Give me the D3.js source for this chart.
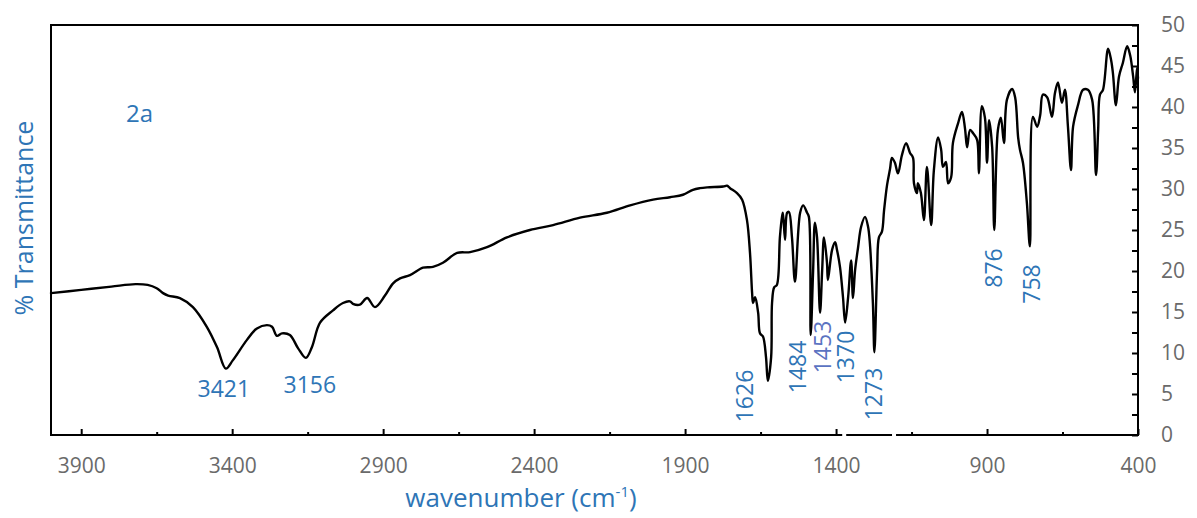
<!DOCTYPE html>
<html>
<head>
<meta charset="utf-8">
<script src="https://cdn.jsdelivr.net/npm/d3@7"></script>
<style>
  html, body { margin: 0; padding: 0; background: #fff; }
  svg { display: block; }
  text { font-family: "Open Sans", "Noto Sans", sans-serif; }
</style>
</head>
<body>
<svg id="chart" width="1197" height="518"></svg>
<script>
// ---- data ----
const wavenumbers = [
  4000, 3900, 3800, 3720, 3680, 3650, 3629, 3612, 3573, 3530, 3484, 3450, 3421, 3398, 3351, 3318, 3285, 3268, 3252, 3235,
  3209, 3182, 3156, 3136, 3109, 3066, 3033, 3010, 3000, 2977, 2953, 2927, 2894, 2867, 2844, 2811, 2768, 2735, 2702, 2655,
  2612, 2556, 2490, 2414, 2337, 2248, 2159, 2082, 2006, 1950, 1907, 1874, 1851, 1827, 1774, 1761, 1751, 1728, 1711, 1695,
  1685, 1678, 1675, 1668, 1658, 1652, 1642, 1632, 1626, 1615, 1612, 1605, 1596, 1586, 1579, 1576, 1569, 1562, 1556, 1546,
  1536, 1519, 1509, 1496, 1490, 1484, 1476, 1470, 1463, 1453, 1446, 1440, 1430, 1427, 1413, 1403, 1397, 1387, 1377, 1370,
  1360, 1350, 1344, 1337, 1327, 1317, 1304, 1294, 1288, 1278, 1273, 1264, 1258, 1248, 1241, 1231, 1221, 1215, 1205, 1195,
  1182, 1168, 1155, 1145, 1142, 1132, 1129, 1119, 1109, 1099, 1085, 1076, 1062, 1052, 1046, 1036, 1029, 1019, 1013, 996,
  983, 973, 966, 956, 946, 933, 927, 917, 907, 900, 893, 883, 876, 864, 854, 844, 834, 817, 807, 797,
  791, 781, 768, 758, 748, 734, 724, 715, 701, 685, 675, 665, 652, 642, 632, 622, 615, 599, 582, 566,
  552, 539, 532, 526, 516, 499, 489, 483, 473, 463, 450, 436, 426, 416, 410, 403, 400
];
const transmittance = [
  17.3, 17.7, 18.1, 18.4, 18.3, 17.9, 17.3, 17.0, 16.7, 15.6, 13.2, 10.7, 8.1, 9.1, 11.6, 13.0, 13.4, 13.2, 12.1, 12.4,
  12.2, 10.6, 9.4, 10.7, 13.7, 15.2, 16.1, 16.3, 16.0, 15.9, 16.7, 15.6, 17.0, 18.5, 19.1, 19.5, 20.4, 20.5, 21.0, 22.2,
  22.3, 22.9, 24.1, 25.0, 25.6, 26.5, 27.1, 28.0, 28.7, 29.0, 29.3, 29.9, 30.1, 30.2, 30.3, 30.4, 30.1, 29.5, 28.7, 26.2,
  22.2, 17.3, 16.1, 16.8, 14.9, 12.4, 12.0, 9.5, 6.6, 9.5, 16.1, 18.0, 18.3, 24.1, 26.6, 27.1, 23.8, 27.1, 27.2, 24.1,
  18.7, 27.1, 28.0, 27.1, 26.6, 12.2, 20.0, 25.9, 24.1, 14.9, 20.1, 24.1, 21.0, 18.9, 22.6, 23.5, 22.6, 20.5, 16.8, 13.7,
  16.8, 21.3, 16.7, 20.1, 22.9, 25.4, 26.6, 25.4, 23.4, 16.1, 10.1, 20.1, 24.1, 24.8, 27.4, 30.5, 32.5, 33.8, 33.2, 31.9,
  34.1, 35.6, 34.4, 33.8, 30.7, 29.5, 30.7, 29.5, 26.2, 32.7, 25.6, 32.3, 36.3, 34.8, 32.7, 33.3, 30.7, 31.4, 35.6, 38.0,
  39.4, 37.4, 35.1, 37.2, 36.8, 36.0, 31.9, 40.1, 38.7, 33.2, 38.4, 35.1, 25.0, 37.2, 38.7, 35.6, 40.9, 42.2, 41.2, 36.3,
  34.8, 33.2, 28.3, 23.0, 38.8, 37.6, 39.0, 41.5, 41.2, 38.8, 41.7, 43.0, 40.5, 42.1, 37.6, 32.3, 37.6, 40.2, 42.1, 42.1,
  40.9, 31.7, 37.2, 41.5, 42.1, 47.1, 45.7, 44.1, 40.2, 43.7, 45.4, 47.4, 46.3, 43.7, 41.8, 44.8, 43.5
];

const xTickLabels = [3900, 3400, 2900, 2400, 1900, 1400, 900, 400];
const xMinorTicks = [3650, 3150, 2650, 2150, 1650, 1150, 650];
const yTickLabels = [0, 5, 10, 15, 20, 25, 30, 35, 40, 45, 50];
const yMinorTicks = [2.5, 7.5, 12.5, 17.5, 22.5, 27.5, 32.5, 37.5, 42.5, 47.5];

const peakNames = ["3421", "3156", "1626", "1484", "1453", "1370", "1273", "876", "758"];
const peakWavenumbers = [3421, 3156, 1626, 1484, 1453, 1370, 1273, 876, 758];

// ---- layout ----
const plot = { left: 51, right: 1138, top: 25, bottom: 435 };
const BLUE = "#2e75b6";
const GREY = "#6a6a6a";

const svg = d3.select("#chart");

const x = d3.scaleLinear().domain([4000, 400]).range([plot.left, plot.right]);
const y = d3.scaleLinear().domain([0, 50]).range([plot.bottom, plot.top]);

// spectrum line
const pts = wavenumbers.map((w, i) => [w, transmittance[i]]);
svg.append("path")
  .datum(pts)
  .attr("fill", "none")
  .attr("stroke", "#000")
  .attr("stroke-width", 2.4)
  .attr("stroke-linejoin", "round")
  .attr("stroke-linecap", "round")
  .attr("d", d3.line().curve(d3.curveCatmullRom.alpha(0.5)).x(d => x(d[0])).y(d => y(d[1])));

// frame
svg.append("rect")
  .attr("x", plot.left).attr("y", plot.top)
  .attr("width", plot.right - plot.left).attr("height", plot.bottom - plot.top)
  .attr("fill", "none").attr("stroke", "#000").attr("stroke-width", 2);

function styleAxis(g) {
  g.select(".domain").remove();
  g.selectAll("line").attr("stroke", "#000").attr("stroke-width", 2);
  g.selectAll("text").attr("fill", GREY).attr("font-size", 21)
    .attr("font-family", '"Open Sans", sans-serif');
}

// x ticks (inward)
svg.append("g").attr("transform", `translate(0,${plot.bottom})`)
  .call(d3.axisTop(x).tickValues(xTickLabels).tickSize(6).tickFormat(""))
  .call(styleAxis);
svg.append("g").attr("transform", `translate(0,${plot.bottom})`)
  .call(d3.axisTop(x).tickValues(xMinorTicks).tickSize(3).tickFormat(""))
  .call(styleAxis);
// x labels
svg.append("g").attr("transform", `translate(0,${plot.bottom})`)
  .call(d3.axisBottom(x).tickValues(xTickLabels).tickSize(0).tickPadding(23).tickFormat(d3.format("d")))
  .call(styleAxis);

// y ticks (inward from right axis)
svg.append("g").attr("transform", `translate(${plot.right},0)`)
  .call(d3.axisLeft(y).tickValues(yTickLabels.concat(yMinorTicks)).tickSize(6).tickFormat(""))
  .call(styleAxis);
// y labels on the right
svg.append("g").attr("transform", `translate(${plot.right},0)`)
  .call(d3.axisRight(y).tickValues(yTickLabels).tickSize(0).tickPadding(23).tickFormat(d3.format("d")))
  .call(styleAxis);

// small white breaks in the bottom axis line (as in the reference)
[1373, 1208].forEach(w => {
  svg.append("rect").attr("x", x(w) - 2).attr("y", plot.bottom - 3)
    .attr("width", 4).attr("height", 6).attr("fill", "#fff");
});

// axis titles
svg.append("text")
  .attr("transform", `translate(33,${(118 + 318) / 2}) rotate(-90)`)
  .attr("text-anchor", "middle")
  .attr("fill", BLUE).attr("font-size", 25)
  .text("% Transmittance");

const xt = svg.append("text")
  .attr("x", 521).attr("y", 507)
  .attr("text-anchor", "middle")
  .attr("fill", BLUE).attr("font-size", 26);
xt.append("tspan").text("wavenumber (cm");
xt.append("tspan").attr("font-size", 15).attr("dy", -10).text("-1");
xt.append("tspan").attr("dy", 10).text(")");

// panel tag
svg.append("text").attr("x", 126).attr("y", 122)
  .attr("fill", BLUE).attr("font-size", 24).text("2a");

// peak annotations: offset from the peak's x position, label centre in %T, rotation, colour
const peakLayout = {
  "3421": { dx: -2, t: 4.6, rot: false, c: BLUE },
  "3156": { dx: 4, t: 5.1, rot: false, c: BLUE },
  "1626": { dx: -23, t: (435 - 396) / 8.2, rot: true, c: BLUE },
  "1484": { dx: -13, t: (435 - 367) / 8.2, rot: true, c: BLUE },
  "1453": { dx: 3, t: (435 - 347) / 8.2, rot: true, c: "#5b73c2" },
  "1370": { dx: 1, t: (435 - 357) / 8.2, rot: true, c: BLUE },
  "1273": { dx: -1, t: (435 - 394) / 8.2, rot: true, c: BLUE },
  "876": { dx: -1, t: (435 - 268) / 8.2, rot: true, c: BLUE },
  "758": { dx: 2, t: (435 - 284) / 8.2, rot: true, c: BLUE }
};
peakNames.forEach((name, i) => {
  const L = peakLayout[name];
  const px = x(peakWavenumbers[i]) + L.dx;
  const py = y(L.t);
  const t = svg.append("text")
    .attr("fill", L.c).attr("font-size", 23)
    .attr("text-anchor", "middle")
    .text(name);
  if (L.rot) {
    t.attr("transform", `translate(${px},${py}) rotate(-90)`).attr("dy", "0.36em");
  } else {
    t.attr("x", px).attr("y", py);
  }
});
</script>
</body>
</html>
